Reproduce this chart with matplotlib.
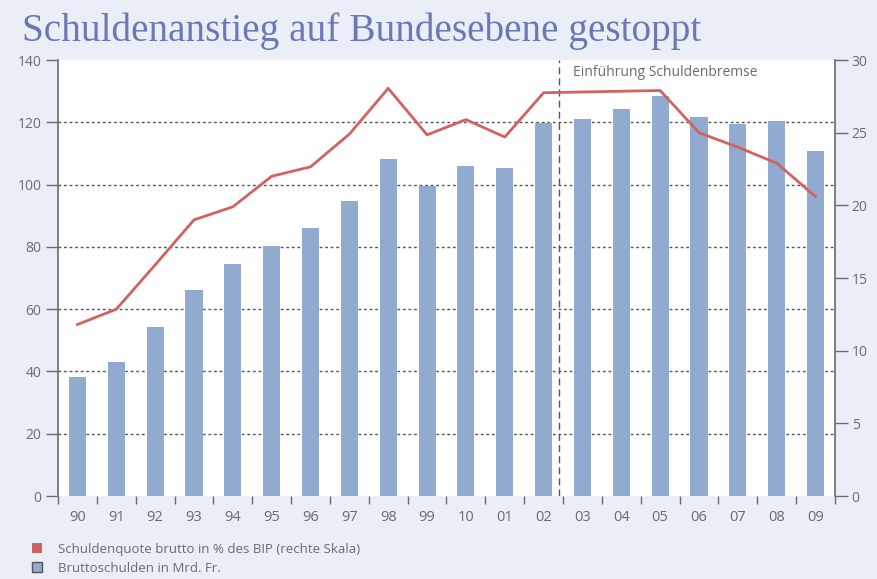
import numpy as np
import matplotlib.pyplot as plt
from matplotlib.patches import Patch

# Jahre (Beschriftung wie im Original)
jahre = ['90', '91', '92', '93', '94', '95', '96', '97', '98', '99',
         '10', '01', '02', '03', '04', '05', '06', '07', '08', '09']
# Bruttoschulden in Mrd. Fr. (linke Skala)
bruttoschulden = [38.2, 43.0, 54.3, 66.0, 74.5, 80.3, 86.0, 94.7, 108.3, 99.5,
                  105.9, 105.3, 119.8, 121.0, 124.2, 128.4, 121.7, 119.5, 120.4, 110.8]
# Schuldenquote brutto in % des BIP (rechte Skala)
schuldenquote = [11.8, 12.85, 15.9, 19.0, 19.9, 22.0, 22.65, 24.9, 28.05, 24.85,
                 25.9, 24.7, 27.75, 27.8, 27.85, 27.9, 25.0, 24.0, 22.9, 20.6]
links_ticks = [0, 20, 40, 60, 80, 100, 120, 140]
rechts_ticks = [0, 5, 10, 15, 20, 25, 30]

bg = '#eaeef6'
balken_farbe = '#91abd0'
linie_farbe = '#d0625f'
grau = '#6b6b6b'
font = 'Open Sans'

fig = plt.figure(figsize=(8.78, 5.79), dpi=100, facecolor=bg)
ax = fig.add_axes([58 / 878, 1 - 496 / 579, 777 / 878, 436 / 579])
ax.set_facecolor('white')

x = np.arange(len(jahre))
ax.bar(x, bruttoschulden, width=0.44, color=balken_farbe, zorder=2)
ax.set_xlim(-0.5, len(jahre) - 0.5)
ax.set_ylim(0, 140)

for g in links_ticks[1:-1]:
    ax.axhline(g, color='#555555', lw=1.0, ls=(0, (2, 2)), zorder=1)

ax.set_yticks(links_ticks)
ax.set_yticklabels([str(t) for t in links_ticks], fontsize=10, color=grau, family=font)
ax.tick_params(axis='y', direction='out', length=9, width=1, color=grau, pad=3)

# Kategorienränder als Ticks, Beschriftung in der Mitte
ax.set_xticks(np.arange(len(jahre) + 1) - 0.5)
ax.set_xticklabels([])
ax.set_xticks(x, minor=True)
ax.set_xticklabels(jahre, minor=True, fontsize=10.5, color=grau, family=font)
ax.tick_params(axis='x', which='major', direction='out', length=6, width=1, color=grau)
ax.tick_params(axis='x', which='minor', length=0, pad=10)

for s in ['top', 'bottom']:
    ax.spines[s].set_visible(False)
ax.spines['left'].set_color(grau)
ax.spines['left'].set_linewidth(1.2)
ax.spines['right'].set_visible(False)

ax2 = ax.twinx()
ax2.plot(x, schuldenquote, color=linie_farbe, lw=2, zorder=3)
ax2.set_ylim(0, 30)
ax2.set_yticks(rechts_ticks)
ax2.set_yticklabels([str(t) for t in rechts_ticks], fontsize=10, color=grau, family=font)
ax2.tick_params(axis='y', direction='out', length=9, width=1, color=grau, pad=3)
for s in ['top', 'bottom', 'left']:
    ax2.spines[s].set_visible(False)
ax2.spines['right'].set_color(grau)
ax2.spines['right'].set_linewidth(1.2)

# Einführung Schuldenbremse
ax.axvline(12.4, color='#555555', lw=1.0, ls=(0, (5, 3)), zorder=4)
ax.text(12.75, 136, 'Einführung Schuldenbremse', fontsize=10, color=grau,
        family=font, va='center', ha='left')

fig.text(22 / 878, 1 - 41 / 579, 'Schuldenanstieg auf Bundesebene gestoppt',
         fontsize=28.3, color='#6b78b6', family='Liberation Serif', va='baseline')

handles = [Patch(facecolor=linie_farbe, edgecolor='none'),
           Patch(facecolor=balken_farbe, edgecolor='#555555', linewidth=1)]
labels = ['Schuldenquote brutto in % des BIP (rechte Skala)', 'Bruttoschulden in Mrd. Fr.']
fig.legend(handles, labels, loc='upper left', bbox_to_anchor=(20 / 878, 1 - 531 / 579),
           frameon=False, handlelength=0.8, handleheight=0.8, handletextpad=1.2,
           labelspacing=0.45, prop={'family': font, 'size': 9.5}, labelcolor=grau)

fig.savefig('out.png', dpi=100, facecolor=bg)
